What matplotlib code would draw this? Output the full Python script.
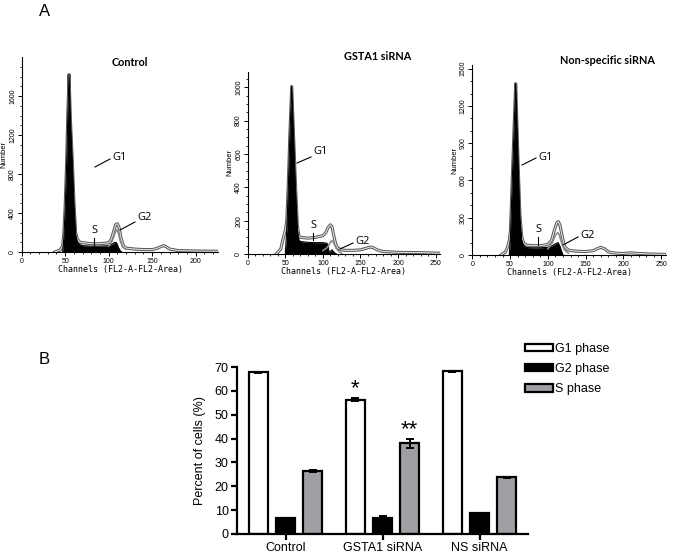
import numpy as np
import matplotlib
matplotlib.use("Agg")
import matplotlib.pyplot as plt
from matplotlib.patches import Patch
from matplotlib.lines import Line2D

plt.rcParams['font.family'] = ['Liberation Sans', 'DejaVu Sans']

# ---- panel A: flow cytometry histograms (channel, count) ----
ctrl_fill_ch = [47, 48.5, 50, 51.7, 53, 54.4, 56, 58.2, 60, 62, 64, 67, 70, 80, 90, 100, 104, 107, 109, 111, 113, 115]
ctrl_fill = [0, 150, 450, 910, 1400, 1820, 1350, 910, 500, 180, 100, 75, 65, 60, 60, 65, 80, 100, 95, 50, 15, 0]
ctrl_line_ch = [38, 44, 47, 48.5, 50, 51.7, 53, 54.4, 56, 58.2, 60, 62, 64, 67, 70, 80, 90, 100, 103, 106,
                108, 110, 112, 114, 117, 120, 130, 140, 150, 155, 160, 163, 166, 170, 180, 200, 225]
ctrl_line = [0, 20, 60, 200, 480, 930, 1410, 1820, 1360, 930, 520, 200, 130, 100, 95, 85, 85, 95, 130, 220,
             280, 290, 250, 150, 60, 40, 30, 25, 25, 35, 55, 65, 55, 30, 15, 10, 8]
ctrl_g2_ch = [100, 104, 107, 109, 111, 113, 116, 120]
ctrl_g2 = [60, 110, 190, 230, 200, 120, 50, 25]

gsta_fill_ch = [50, 52, 54, 56, 58.5, 61, 63.5, 66, 68, 70, 80, 90, 100, 105, 107, 108, 110, 112, 114, 116, 118]
gsta_fill = [0, 150, 400, 700, 1005, 700, 400, 150, 85, 75, 70, 68, 68, 65, 55, 10, 15, 25, 15, 5, 0]
gsta_line_ch = [38, 44, 47, 50, 52, 54, 56, 58.5, 61, 63.5, 66, 68, 70, 80, 90, 100, 104, 107, 110, 112,
                114, 117, 120, 125, 130, 140, 150, 158, 163, 167, 172, 180, 200, 230, 255]
gsta_line = [0, 30, 90, 140, 200, 420, 710, 1005, 710, 420, 170, 110, 100, 95, 100, 110, 130, 160, 175, 165,
             120, 60, 35, 25, 22, 22, 25, 35, 42, 38, 25, 15, 10, 8, 5]
gsta_g2_ch = [100, 106, 110, 112, 114, 117, 121, 125]
gsta_g2 = [20, 40, 70, 80, 70, 40, 15, 5]

ns_fill_ch = [49, 50.5, 53.4, 55.5, 57.4, 59, 60.8, 63, 65.3, 68, 72, 80, 90, 100, 106, 110, 113.5, 116, 118, 120]
ns_fill = [0, 150, 690, 1050, 1380, 1050, 690, 300, 120, 75, 60, 58, 58, 62, 75, 90, 100, 70, 30, 0]
ns_line_ch = [38, 44, 47, 49, 50.5, 53.4, 55.5, 57.4, 59, 60.8, 63, 65.3, 68, 72, 80, 90, 100, 105, 109, 112,
              114, 116, 119, 122, 126, 130, 140, 150, 160, 165, 170, 175, 180, 190, 200, 210, 220, 235, 255]
ns_line = [0, 25, 70, 120, 200, 700, 1060, 1380, 1060, 700, 320, 150, 95, 80, 75, 75, 85, 120, 210, 262,
           268, 240, 150, 70, 45, 35, 30, 28, 35, 50, 62, 50, 25, 15, 12, 18, 12, 8, 5]
ns_g2_ch = [100, 106, 110, 113, 115, 118, 122, 127]
ns_g2 = [50, 100, 160, 180, 165, 100, 40, 15]

# ---- panel B: percent of cells per phase ----
groups = ['Control', 'GSTA1 siRNA', 'NS siRNA']
phases = ['G1 phase', 'G2 phase', 'S phase']
g1_pct = [67.8, 56.3, 68.2]
g1_err = [0.2, 0.5, 0.2]
g2_pct = [6.5, 6.5, 8.7]
g2_err = [0.4, 1.2, 0.2]
s_pct = [26.4, 38.0, 23.7]
s_err = [0.6, 1.8, 0.2]

W, H = 686, 559
fig = plt.figure(figsize=(W / 100, H / 100), dpi=100)


def fx(x):
    return x / W


def fy(y):
    return 1 - y / H


def px_axes(left, top, right, bottom):
    return fig.add_axes([fx(left), fy(bottom), (right - left) / W, (bottom - top) / H])


def draw_hist(ax, fill_ch, fill, line_ch, line, g2_ch, g2, xmax, ymax, ymajor, yminor):
    ax.plot(line_ch, line, color='#555555', lw=2.2, zorder=2)
    ax.plot(line_ch, line, color='#e0e0e0', lw=0.8, zorder=3)
    ax.fill_between(fill_ch, fill, 0, color='black', lw=0, zorder=4)
    ax.plot(fill_ch, fill, color='black', lw=0.8, zorder=4)
    ax.plot(g2_ch, g2, color='#8a8a8a', lw=1.2, zorder=5)
    ax.set_xlim(0, xmax)
    ax.set_ylim(0, ymax)
    for s in ['top', 'right']:
        ax.spines[s].set_visible(False)
    for s in ['left', 'bottom']:
        ax.spines[s].set_linewidth(0.8)
    ax.set_xticks(np.arange(0, xmax + 1, 50))
    ax.set_xticks(np.arange(0, xmax + 1, 10), minor=True)
    ax.set_yticks(np.arange(0, ymax, ymajor))
    ax.set_yticks(np.arange(0, ymax, yminor), minor=True)
    ax.tick_params(which='major', length=3, width=0.7, labelsize=5, pad=1)
    ax.tick_params(which='minor', length=1.6, width=0.6)
    for lab in ax.get_yticklabels():
        lab.set_rotation(90)
        lab.set_va('center')
    ax.set_ylabel('Number', fontsize=5.5, labelpad=1)
    ax.set_xlabel('Channels (FL2-A-FL2-Area)', fontsize=6, family='DejaVu Sans Mono', labelpad=0)


ax1 = px_axes(21.7, 57, 218.3, 252)
draw_hist(ax1, ctrl_fill_ch, ctrl_fill, ctrl_line_ch, ctrl_line, ctrl_g2_ch, ctrl_g2, 226, 2000, 400, 100)
ax2 = px_axes(247.7, 72, 440.2, 254)
draw_hist(ax2, gsta_fill_ch, gsta_fill, gsta_line_ch, gsta_line, gsta_g2_ch, gsta_g2, 256, 1092, 200, 50)
ax3 = px_axes(472.3, 65, 665.8, 255)
draw_hist(ax3, ns_fill_ch, ns_fill, ns_line_ch, ns_line, ns_g2_ch, ns_g2, 256, 1530, 300, 100)

# panel titles
title_font = dict(family=['Lato', 'DejaVu Sans'], fontweight='bold', fontsize=7.8, ha='center', va='center')
fig.text(fx(130), fy(62), 'Control', **title_font)
fig.text(fx(378), fy(57), 'GSTA1 siRNA', **title_font)
fig.text(fx(607), fy(60), 'Non-specific siRNA', **title_font)

# phase annotations: (text, text x, text y, line x0, y0, x1, y1) in pixels
ann_font = dict(fontsize=8, ha='left', va='center', family=['Open Sans', 'DejaVu Sans'])
annotations = [
    ('G1', 112, 157, 95, 167, 110, 159), ('S', 91, 231, 94, 238, 94, 246), ('G2', 137, 217, 120, 230, 135, 222),
    ('G1', 313, 152, 297, 163, 311, 157), ('S', 310, 226, 313, 233, 313, 240), ('G2', 355, 241, 340, 249, 353, 243),
    ('G1', 538, 157, 522, 165, 536, 158), ('S', 535, 230, 538, 237, 538, 245), ('G2', 580, 235, 563, 245, 578, 237),
]
for txt, tx, ty, x0, y0, x1, y1 in annotations:
    fig.text(fx(tx), fy(ty), txt, **ann_font)
    fig.add_artist(Line2D([fx(x0), fx(x1)], [fy(y0), fy(y1)], color='black', lw=0.8))

fig.text(fx(45), fy(12), 'A', fontsize=12, ha='center', va='center')
fig.text(fx(44), fy(360), 'B', fontsize=12, ha='center', va='center')

# ---- panel B bar chart ----
axb = px_axes(237, 367, 528, 534)
x = np.arange(len(groups))
w = 0.2
off = 0.28
bar_kw = dict(edgecolor='black', linewidth=1.6, error_kw=dict(elinewidth=1.4, capthick=1.4), capsize=3, ecolor='black')
axb.bar(x - off, g1_pct, w, yerr=g1_err, color='white', **bar_kw)
axb.bar(x, g2_pct, w, yerr=g2_err, color='black', **bar_kw)
axb.bar(x + off, s_pct, w, yerr=s_err, color='#a0a0a4', **bar_kw)
axb.set_xlim(-0.5, 2.5)
axb.set_ylim(0, 70)
axb.set_yticks(np.arange(0, 71, 10))
axb.set_xticks(x)
axb.set_xticklabels(groups)
for s in ['top', 'right']:
    axb.spines[s].set_visible(False)
for s in ['left', 'bottom']:
    axb.spines[s].set_linewidth(1.6)
axb.tick_params(length=4, width=1.6, labelsize=9, pad=2)
axb.set_ylabel('Percent of cells (%)', fontsize=9, labelpad=6)

axb.text(x[1] - off, g1_pct[1] + 4.4, '*', ha='center', va='center', fontsize=16)
axb.text(x[1] + off, s_pct[1] + 5.8, '**', ha='center', va='center', fontsize=16)

handles = [Patch(facecolor='white', edgecolor='black', lw=1.6),
           Patch(facecolor='black', edgecolor='black', lw=1.6),
           Patch(facecolor='#a0a0a4', edgecolor='black', lw=1.6)]
fig.legend(handles, phases, loc='upper left', bbox_to_anchor=(fx(525), fy(343)), frameon=False,
           fontsize=9, handlelength=2.2, handleheight=0.55, labelspacing=0.65, handletextpad=0.2,
           borderpad=0, borderaxespad=0)

fig.savefig('out.png', dpi=100)
